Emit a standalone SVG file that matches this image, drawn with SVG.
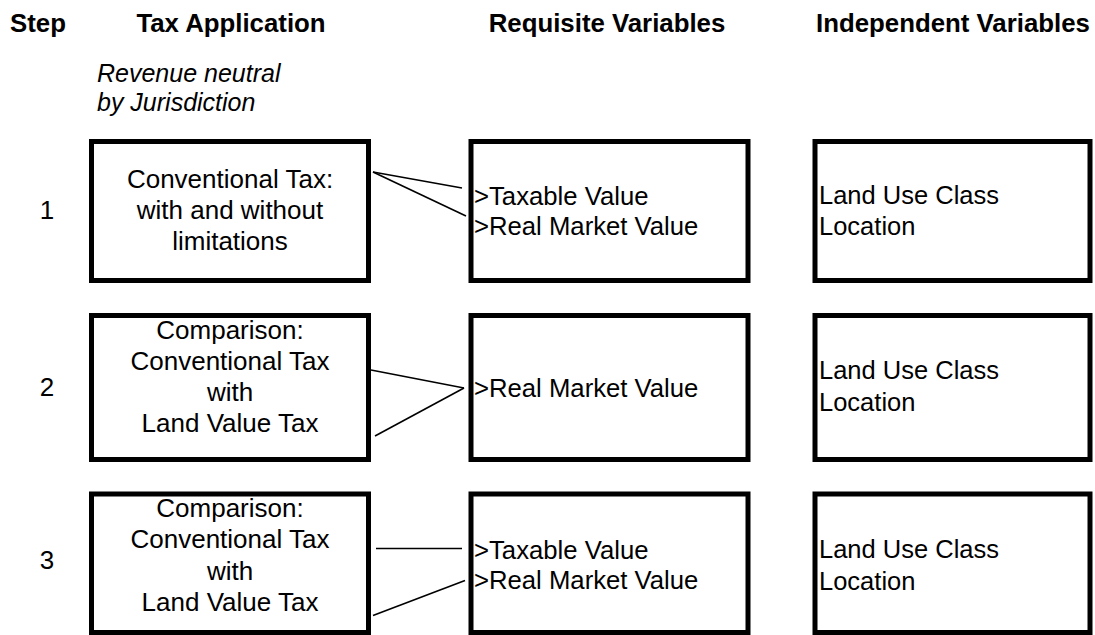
<svg xmlns="http://www.w3.org/2000/svg" width="1095" height="635" viewBox="0 0 1095 635">
<style>
.box{fill:#fff;stroke:#000;stroke-width:5}
.hd{font-family:"Liberation Sans",Arial,sans-serif;font-weight:bold;font-size:25.8px;fill:#000}
.t{font-family:"Liberation Sans",Arial,sans-serif;font-size:26px;fill:#000}
.m{font-size:25.7px}
.r{font-size:25.5px}
.c{text-anchor:middle}
.it{font-style:italic;font-size:25px}
.ln{stroke:#000;stroke-width:1.6;fill:none}
</style>
<g id="headers">
<text class="hd" x="10" y="32">Step</text>
<text class="hd c" x="231" y="32">Tax Application</text>
<text class="hd c" x="607" y="32">Requisite Variables</text>
<text class="hd c" x="953" y="32">Independent Variables</text>
<text class="t it" x="97" y="82">Revenue neutral</text>
<text class="t it" x="97" y="111">by Jurisdiction</text>
</g>
<g id="steps">
<text class="t c" x="47" y="219">1</text>
<text class="t c" x="47" y="396">2</text>
<text class="t c" x="47" y="569">3</text>
</g>
<g id="tax1">
<rect class="box" x="91.5" y="141.5" width="277" height="139"/>
<text class="t c" x="230" y="188">Conventional Tax:</text>
<text class="t c" x="230" y="219">with and without</text>
<text class="t c" x="230" y="250">limitations</text>
</g>
<g id="req1">
<rect class="box" x="471" y="141.5" width="277" height="139"/>
<text class="t m" x="474" y="205">&gt;Taxable Value</text>
<text class="t m" x="474" y="235">&gt;Real Market Value</text>
</g>
<g id="ind1">
<rect class="box" x="815" y="141.5" width="275" height="139"/>
<text class="t r" x="819" y="204">Land Use Class</text>
<text class="t r" x="819" y="235">Location</text>
</g>
<g id="tax2">
<rect class="box" x="91.5" y="315.5" width="277" height="144"/>
<text class="t c" x="230" y="338.5">Comparison:</text>
<text class="t c" x="230" y="369.5">Conventional Tax</text>
<text class="t c" x="230" y="401">with</text>
<text class="t c" x="230" y="432">Land Value Tax</text>
</g>
<g id="req2">
<rect class="box" x="471" y="315.5" width="277" height="144"/>
<text class="t m" x="474" y="397">&gt;Real Market Value</text>
</g>
<g id="ind2">
<rect class="box" x="815" y="315.5" width="275" height="144"/>
<text class="t r" x="819" y="379">Land Use Class</text>
<text class="t r" x="819" y="411">Location</text>
</g>
<g id="tax3">
<rect class="box" x="91.5" y="494" width="277" height="138.5"/>
<text class="t c" x="230" y="517">Comparison:</text>
<text class="t c" x="230" y="548">Conventional Tax</text>
<text class="t c" x="230" y="579.5">with</text>
<text class="t c" x="230" y="610.5">Land Value Tax</text>
</g>
<g id="req3">
<rect class="box" x="471" y="494" width="277" height="138.5"/>
<text class="t m" x="474" y="559">&gt;Taxable Value</text>
<text class="t m" x="474" y="589">&gt;Real Market Value</text>
</g>
<g id="ind3">
<rect class="box" x="815" y="494" width="275" height="138.5"/>
<text class="t r" x="819" y="558">Land Use Class</text>
<text class="t r" x="819" y="590">Location</text>
</g>
<g id="connectors">
<line class="ln" x1="373" y1="172" x2="462" y2="188"/>
<line class="ln" x1="373" y1="172" x2="466" y2="216"/>
<line class="ln" x1="371" y1="370" x2="464" y2="388"/>
<line class="ln" x1="375" y1="436" x2="464" y2="388"/>
<line class="ln" x1="376" y1="548.5" x2="462" y2="548.5"/>
<line class="ln" x1="373" y1="615.5" x2="465" y2="580.5"/>
</g>
</svg>
